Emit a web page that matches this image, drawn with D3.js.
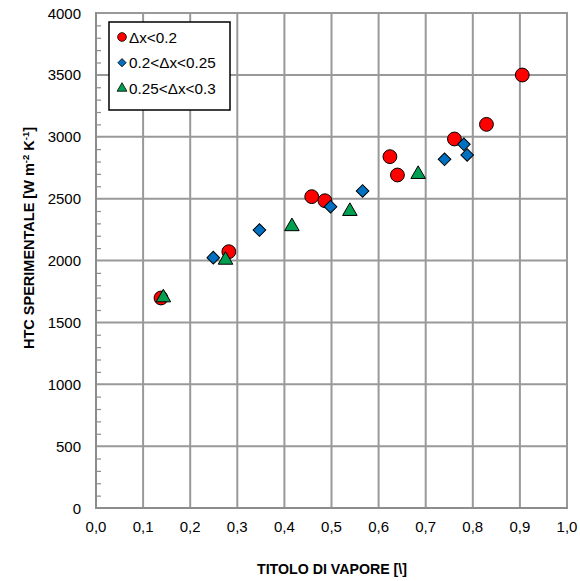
<!DOCTYPE html>
<html>
<head>
<meta charset="utf-8">
<script src="https://cdn.jsdelivr.net/npm/d3@7"></script>
<style>
  html, body { margin: 0; padding: 0; background: #fff; }
  svg text { font-family: "Liberation Sans", Arial, sans-serif; }
</style>
</head>
<body>
<script>
// Series: vapour quality vs. experimental heat transfer coefficient
const seriesNames = ["Δx<0.2", "0.2<Δx<0.25", "0.25<Δx<0.3"];

const lowX  = [0.138, 0.282, 0.458, 0.486, 0.624, 0.640, 0.761, 0.829, 0.905];
const lowY  = [1697, 2071, 2516, 2483, 2839, 2691, 2982, 3100, 3499];

const midX  = [0.249, 0.347, 0.498, 0.566, 0.740, 0.781, 0.788];
const midY  = [2023, 2246, 2435, 2562, 2818, 2939, 2853];

const highX = [0.143, 0.275, 0.416, 0.539, 0.684];
const highY = [1700, 2004, 2275, 2398, 2697];

const xTicks = [0, 0.1, 0.2, 0.3, 0.4, 0.5, 0.6, 0.7, 0.8, 0.9, 1.0];
const yTicks = [0, 500, 1000, 1500, 2000, 2500, 3000, 3500, 4000];

const W = 580, H = 581;
const margin = { left: 96, right: 13, top: 13, bottom: 73 };

const svg = d3.select("body").append("svg")
  .attr("width", W).attr("height", H);

const x = d3.scaleLinear().domain([0, 1]).range([margin.left, W - margin.right]);
const y = d3.scaleLinear().domain([0, 4000]).range([H - margin.bottom, margin.top]);

const gridColor = "#999999";
const axisColor = "#8c8c8c";

// Vertical grid lines
svg.append("g").selectAll("line").data(xTicks.slice(1)).join("line")
  .attr("x1", d => x(d)).attr("x2", d => x(d))
  .attr("y1", y(0)).attr("y2", y(4000) - 1)
  .attr("stroke", gridColor).attr("stroke-width", 2);

// Horizontal grid lines
svg.append("g").selectAll("line").data(yTicks.slice(1)).join("line")
  .attr("x1", x(0)).attr("x2", x(1) + 1)
  .attr("y1", d => y(d)).attr("y2", d => y(d))
  .attr("stroke", gridColor).attr("stroke-width", 2);

// Minor ticks on the y axis (every 100), pointing inward
const minor = d3.range(100, 4000, 100).filter(v => v % 500 !== 0);
const gm = svg.append("g")
  .attr("transform", `translate(${x(0)},0)`)
  .call(d3.axisRight(y).tickValues(minor).tickSize(5).tickFormat(""));
gm.select(".domain").remove();
gm.selectAll(".tick line").attr("stroke", axisColor).attr("stroke-width", 1.2);

// Axis lines
svg.append("line")
  .attr("x1", x(0)).attr("x2", x(0)).attr("y1", y(0) + 1).attr("y2", y(4000) - 1)
  .attr("stroke", axisColor).attr("stroke-width", 2);
svg.append("line")
  .attr("x1", x(0) - 1).attr("x2", x(1) + 1).attr("y1", y(0)).attr("y2", y(0))
  .attr("stroke", axisColor).attr("stroke-width", 2);

// Tick labels
const fmtX = d => d3.format(".1f")(d).replace(".", ",");
svg.append("g").selectAll("text").data(xTicks).join("text")
  .attr("x", d => x(d)).attr("y", y(0) + 24)
  .attr("text-anchor", "middle").attr("font-size", 15).attr("fill", "#000")
  .text(fmtX);
svg.append("g").selectAll("text").data(yTicks).join("text")
  .attr("x", x(0) - 15).attr("y", d => y(d) + 5.5)
  .attr("text-anchor", "end").attr("font-size", 15).attr("fill", "#000")
  .text(d => d);

// Axis titles
svg.append("text")
  .attr("x", 332).attr("y", 574)
  .attr("text-anchor", "middle").attr("font-size", 14.2).attr("font-weight", "bold")
  .text("TITOLO DI VAPORE [\\]");

const yt = svg.append("text")
  .attr("transform", `translate(34, 238) rotate(-90)`)
  .attr("text-anchor", "middle").attr("font-size", 14.5).attr("font-weight", "bold");
yt.append("tspan").text("HTC SPERIMENTALE [W m");
yt.append("tspan").attr("font-size", 9.5).attr("dy", -5).text("-2");
yt.append("tspan").attr("dy", 5).text(" K");
yt.append("tspan").attr("font-size", 9.5).attr("dy", -5).text("-1");
yt.append("tspan").attr("dy", 5).text("]");

// Marker shapes
const circleSym = d3.symbol().type(d3.symbolCircle).size(150);
const diamondSym = d3.symbol().type(d3.symbolSquare).size(80);
const triSym = d3.symbol().type(d3.symbolTriangle).size(92);

const styles = [
  { fill: "#ff0000", path: circleSym, rot: 0 },
  { fill: "#0070c0", path: diamondSym, rot: 45 },
  { fill: "#00a050", path: triSym, rot: 0 }
];

const series = [
  d3.zip(lowX, lowY),
  d3.zip(midX, midY),
  d3.zip(highX, highY)
];

series.forEach((pts, i) => {
  const s = styles[i];
  svg.append("g").selectAll("path").data(pts).join("path")
    .attr("d", s.path())
    .attr("transform", d => `translate(${x(d[0])},${y(d[1])}) rotate(${s.rot})`)
    .attr("fill", s.fill).attr("stroke", "#000").attr("stroke-width", 1);
});

// Legend
const lg = svg.append("g");
lg.append("rect")
  .attr("x", 109).attr("y", 22).attr("width", 121).attr("height", 88)
  .attr("fill", "#fff").attr("stroke", "#000").attr("stroke-width", 1.5);
const legSyms = [
  d3.symbol().type(d3.symbolCircle).size(60),
  d3.symbol().type(d3.symbolSquare).size(34),
  d3.symbol().type(d3.symbolTriangle).size(42)
];
seriesNames.forEach((name, i) => {
  const cy = 37 + i * 25.7;
  lg.append("path")
    .attr("d", legSyms[i]())
    .attr("transform", `translate(122,${cy}) rotate(${styles[i].rot})`)
    .attr("fill", styles[i].fill).attr("stroke", "#000").attr("stroke-width", 0.8);
  lg.append("text")
    .attr("x", 129).attr("y", cy + 5.5)
    .attr("font-size", 15.3).text(name);
});
</script>
</body>
</html>
